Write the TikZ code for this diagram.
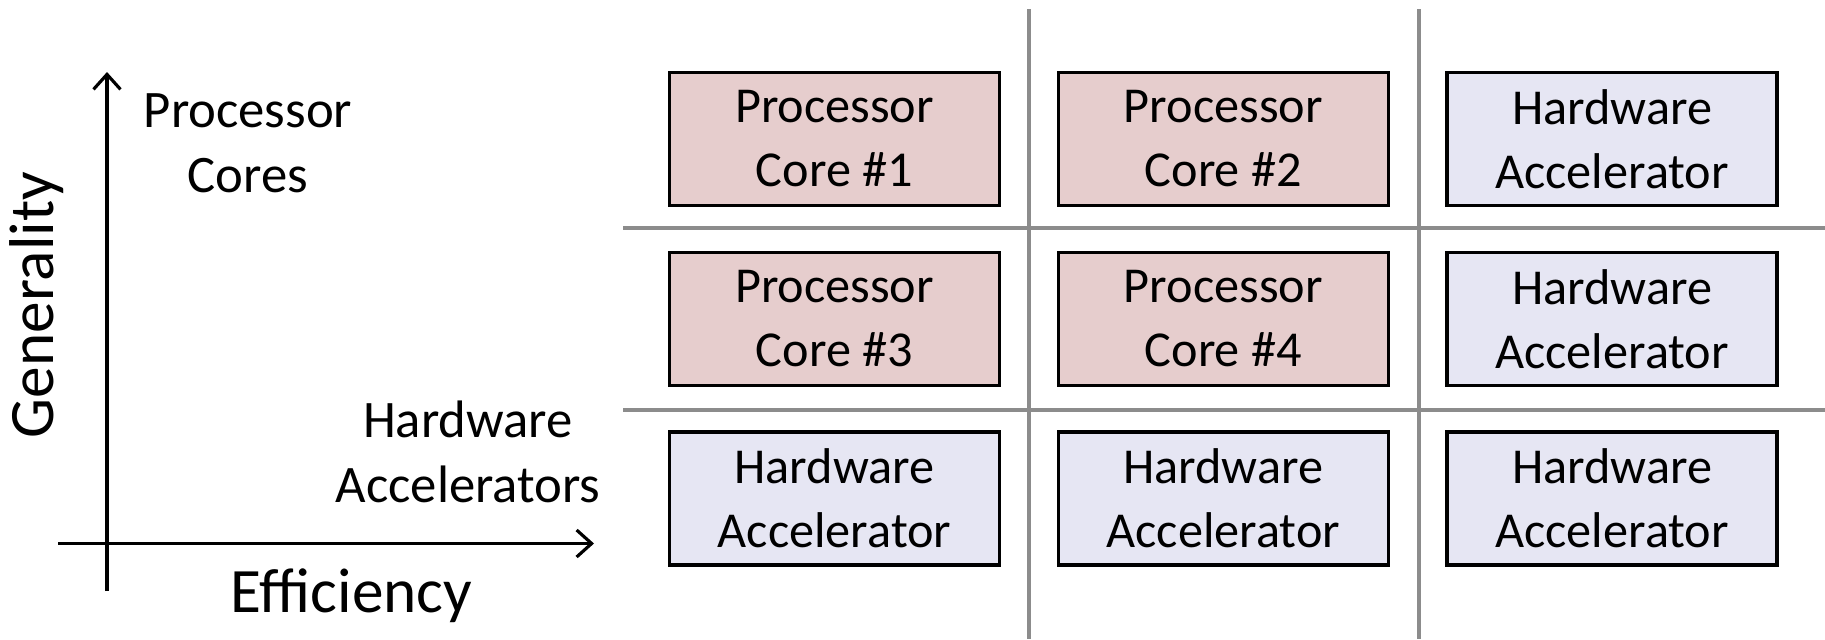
\documentclass[tikz,border=0pt]{standalone}
\usepackage{fontspec}
\setmainfont{Carlito}
\usetikzlibrary{positioning,arrows.meta}
\definecolor{corepink}{RGB}{230,205,205}
\definecolor{accblue}{RGB}{230,230,243}
\tikzset{
    unit box/.style = {
        draw,
        line width=1pt,
        minimum width=33.0mm,
        minimum height=13.3mm,
        align=center,
        inner sep=0pt,
        outer sep=0pt,
        font=\fontsize{14.3}{18.2}\selectfont,
        },
    core/.style = {
        unit box,
        fill = corepink,
        },
    accel/.style = {
        unit box,
        fill = accblue,
        },
    divider/.style = {
        draw = gray!90,
        line width=0.9pt,
        },
    axis/.style = {
        line width=0.9pt,
        -{Straight Barb[length=1.5mm,width=2.7mm]},
        },
    axis label/.style = {
        font=\fontsize{18}{22}\selectfont,
        },
    corner label/.style = {
        align=center,
        font=\fontsize{15}{18.6}\selectfont,
        },
}

\begin{document}
\begin{tikzpicture}[x=0.1mm, y=-0.1mm, node distance=4.68mm and 5.88mm]
            \useasboundingbox (0,0) rectangle (1825,639);

            % grid of units
            \node[core] (c1) at (834.5,139) {Processor\\Core \#1};
            \node[core, right=of c1] (c2) {Processor\\Core \#2};
            \node[accel, right=of c2] (a1) {Hardware\\Accelerator};
            \node[core, below=of c1] (c3) {Processor\\Core \#3};
            \node[core, right=of c3] (c4) {Processor\\Core \#4};
            \node[accel, right=of c4] (a2) {Hardware\\Accelerator};
            \node[accel, below=of c3] (a3) {Hardware\\Accelerator};
            \node[accel, right=of a3] (a4) {Hardware\\Accelerator};
            \node[accel, right=of a4] (a5) {Hardware\\Accelerator};

            \draw[divider] (1029,9) -- (1029,639);
            \draw[divider] (1419,9) -- (1419,639);
            \draw[divider] (623,228) -- (1825,228);
            \draw[divider] (623,410) -- (1825,410);

            % axes
            \coordinate (ybot) at (107,591);
            \coordinate (ytop) at (107,72);
            \coordinate (xleft) at (58,543.5);
            \coordinate (xright) at (594,543.5);
            \draw[axis] (ybot) -- (ytop);
            \draw[axis] (xleft) -- (xright);

            \node[axis label, rotate=90] (gen) at (37,305) {Generality};
            \node[axis label] (eff) at (351.5,596) {Efficiency};
            \node[corner label] (cores) at (248,143) {Processor\\Cores};
            \node[corner label] (accs) at (468,452) {Hardware\\Accelerators};
        \end{tikzpicture}
\end{document}
